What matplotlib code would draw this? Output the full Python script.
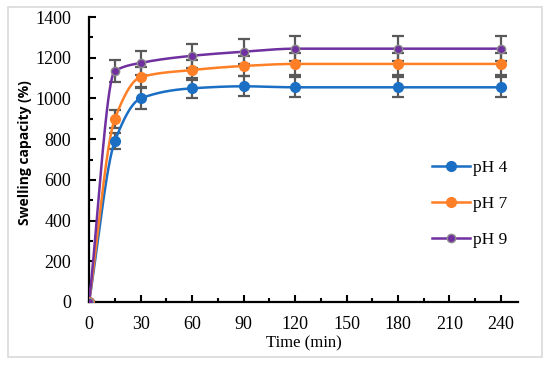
import numpy as np
import matplotlib
matplotlib.use('Agg')
from matplotlib import pyplot as plt
from matplotlib.patches import Rectangle
from matplotlib.ticker import MultipleLocator

# data
time = [0, 15, 30, 60, 90, 120, 180, 240]
ph4 = [0, 790, 1000, 1050, 1060, 1055, 1055, 1055]
ph7 = [0, 900, 1105, 1140, 1160, 1170, 1170, 1170]
ph9 = [0, 1135, 1175, 1210, 1230, 1245, 1245, 1245]
err4 = [0, 40, 50, 50, 50, 50, 50, 50]
err7 = [0, 45, 50, 50, 50, 55, 55, 55]
err9 = [0, 55, 58, 60, 62, 62, 62, 62]
labels = ['pH 4', 'pH 7', 'pH 9']
colors = ['#1a6fc4', '#ff7f27', '#7030a0']


def smooth(x, y, n=40):
    # monotone cubic through the points, looks like excel's smoothed line
    x = np.asarray(x, float)
    y = np.asarray(y, float)
    h = np.diff(x)
    d = np.diff(y) / h
    m = np.zeros_like(y)
    m[0], m[-1] = d[0], d[-1]
    for i in range(1, len(x) - 1):
        if d[i - 1] * d[i] > 0:
            w1 = 2 * h[i] + h[i - 1]
            w2 = h[i] + 2 * h[i - 1]
            m[i] = (w1 + w2) / (w1 / d[i - 1] + w2 / d[i])
    xs, ys = [], []
    t = np.linspace(0, 1, n)
    for i in range(len(x) - 1):
        h00 = 2 * t ** 3 - 3 * t ** 2 + 1
        h10 = t ** 3 - 2 * t ** 2 + t
        h01 = -2 * t ** 3 + 3 * t ** 2
        h11 = t ** 3 - t ** 2
        xs.extend(x[i] + t * h[i])
        ys.extend(h00 * y[i] + h10 * h[i] * m[i] + h01 * y[i + 1] + h11 * h[i] * m[i + 1])
    return xs, ys


fig = plt.figure(figsize=(5.5, 3.65), dpi=100)
fig.patches.append(Rectangle((8 / 550, 8 / 365), 534 / 550, 350 / 365, transform=fig.transFigure,
                             fill=False, edgecolor='#d9d9d9', linewidth=1.2))
ax = fig.add_axes([0.162, 0.173, 0.78, 0.78])

serif = 'Liberation Serif'
for vals, errs, lab, col in zip([ph4, ph7, ph9], [err4, err7, err9], labels, colors):
    ax.errorbar(time, vals, yerr=errs, fmt='none', ecolor='#595959', elinewidth=1.6,
                capsize=4.5, capthick=1.6, zorder=2)
    sx, sy = smooth(time, vals)
    ax.plot(sx, sy, color=col, lw=1.8, zorder=3)
    if lab == 'pH 9':
        ax.plot(time, vals, 'o', color=col, ms=6, mec='#8c8c8c', mew=1, zorder=4)
        ax.plot([], [], '-o', color=col, ms=6, mec='#8c8c8c', mew=1, lw=1.8, label=lab)
    else:
        ax.plot(time, vals, 'o', color=col, ms=7, mec=col, zorder=4)
        ax.plot([], [], '-o', color=col, ms=7, lw=1.8, label=lab)

ax.set_xlim(0, 250)
ax.set_ylim(0, 1400)
ax.xaxis.set_major_locator(MultipleLocator(30))
ax.xaxis.set_minor_locator(MultipleLocator(15))
ax.yaxis.set_major_locator(MultipleLocator(200))
ax.yaxis.set_minor_locator(MultipleLocator(100))
ax.tick_params(which='both', direction='in', width=1.5, colors='black')
ax.tick_params(which='major', length=5, labelsize=13)
ax.tick_params(axis='y', which='major', pad=13)
ax.tick_params(axis='x', which='major', pad=10)
ax.tick_params(which='minor', length=3)
for lbl in ax.get_xticklabels() + ax.get_yticklabels():
    lbl.set_fontfamily(serif)
for s in ['top', 'right']:
    ax.spines[s].set_visible(False)
for s in ['left', 'bottom']:
    ax.spines[s].set_linewidth(1.6)

ax.set_xlabel('Time (min)', fontsize=12, family=serif, labelpad=2)
ax.set_ylabel('Swelling capacity (%)', fontsize=10, family='Open Sans', fontweight='bold')
ax.yaxis.set_label_coords(-0.133, 0.523)

ax.legend(loc='center left', bbox_to_anchor=(0.762, 0.345), frameon=False, handlelength=2.2,
          labelspacing=1.15, handletextpad=0.2, prop={'family': serif, 'size': 12.5})

fig.savefig('out.png', dpi=100)
